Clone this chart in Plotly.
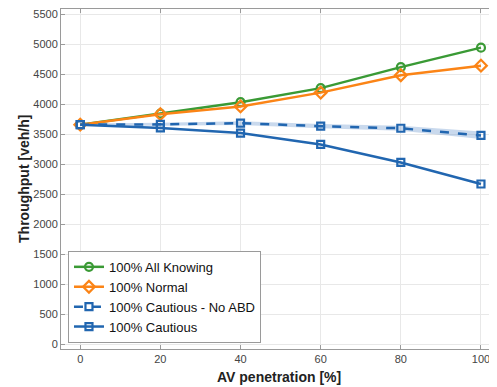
import plotly.graph_objects as go

penetration = [0, 20, 40, 60, 80, 100]
all_knowing = [3660, 3845, 4035, 4270, 4620, 4945]
normal = [3660, 3835, 3965, 4195, 4485, 4645]
cautious_no_abd = [3660, 3665, 3685, 3635, 3600, 3480]
cautious_no_abd_upper = [3680, 3690, 3715, 3670, 3640, 3545]
cautious_no_abd_lower = [3640, 3640, 3655, 3600, 3560, 3420]
cautious = [3660, 3605, 3520, 3330, 3030, 2670]

green = "#3a9a35"
orange = "#fb8416"
blue = "#2166b0"
band = "rgba(120,160,210,0.40)"

fig = go.Figure()
fig.add_trace(go.Scatter(x=penetration, y=cautious_no_abd_upper, mode="lines",
                         line=dict(width=0), showlegend=False, hoverinfo="skip"))
fig.add_trace(go.Scatter(x=penetration, y=cautious_no_abd_lower, mode="lines",
                         line=dict(width=0), fill="tonexty", fillcolor=band,
                         showlegend=False, hoverinfo="skip"))
fig.add_trace(go.Scatter(x=penetration, y=all_knowing, mode="lines+markers",
                         name="100% All Knowing",
                         line=dict(color=green, width=2.5),
                         marker=dict(symbol="circle-open", size=8, color=green,
                                     line=dict(width=2.2, color=green))))
fig.add_trace(go.Scatter(x=penetration, y=normal, mode="lines+markers",
                         name="100% Normal",
                         line=dict(color=orange, width=2.5),
                         marker=dict(symbol="diamond-open", size=9, color=orange,
                                     line=dict(width=2.2, color=orange))))
fig.add_trace(go.Scatter(x=penetration, y=cautious_no_abd, mode="lines+markers",
                         name="100% Cautious - No ABD",
                         line=dict(color=blue, width=2.5, dash="dash"),
                         marker=dict(symbol="square-open", size=7, color=blue,
                                     line=dict(width=2.2, color=blue))))
fig.add_trace(go.Scatter(x=penetration, y=cautious, mode="lines+markers",
                         name="100% Cautious",
                         line=dict(color=blue, width=2.5),
                         marker=dict(symbol="square-open", size=7, color=blue,
                                     line=dict(width=2.2, color=blue))))

axis_common = dict(showline=True, linecolor="#9a9a9a", linewidth=1, mirror="ticks",
                   ticks="inside", ticklen=4, tickcolor="#9a9a9a",
                   showgrid=True, gridcolor="#e8e8e8", gridwidth=1, zeroline=False,
                   automargin=False,
                   tickfont=dict(size=11, color="#444444"))

# page body has an 8px margin, so the figure is sized to fit the 497x387 window
fig.update_layout(
    width=489, height=379,
    margin=dict(l=53, r=0, t=1, b=38),
    paper_bgcolor="white", plot_bgcolor="white",
    font=dict(family="Liberation Sans, Arial, sans-serif", color="#222222"),
    xaxis=dict(range=[-4.8, 104], tickvals=penetration, **axis_common),
    yaxis=dict(range=[-83, 5590], tickvals=list(range(0, 5501, 500)), **axis_common),
    legend=dict(x=0.016, y=0.018, xanchor="left", yanchor="bottom",
                traceorder="normal",
                bgcolor="white", bordercolor="#9a9a9a", borderwidth=1,
                font=dict(size=13, color="#111111"), tracegroupgap=0,
                itemwidth=30),
    showlegend=True,
    annotations=[
        dict(text="<b>AV penetration [%]</b>", xref="paper", yref="paper",
             x=0.5, y=-0.082, xanchor="center", yanchor="middle",
             showarrow=False, font=dict(size=14, color="#222222")),
        dict(text="<b>Throughput [veh/h]</b>", xref="paper", yref="paper",
             x=-0.085, y=0.5, xanchor="center", yanchor="middle", textangle=-90,
             showarrow=False, font=dict(size=14, color="#222222")),
    ],
)

fig.write_html("out.html")
